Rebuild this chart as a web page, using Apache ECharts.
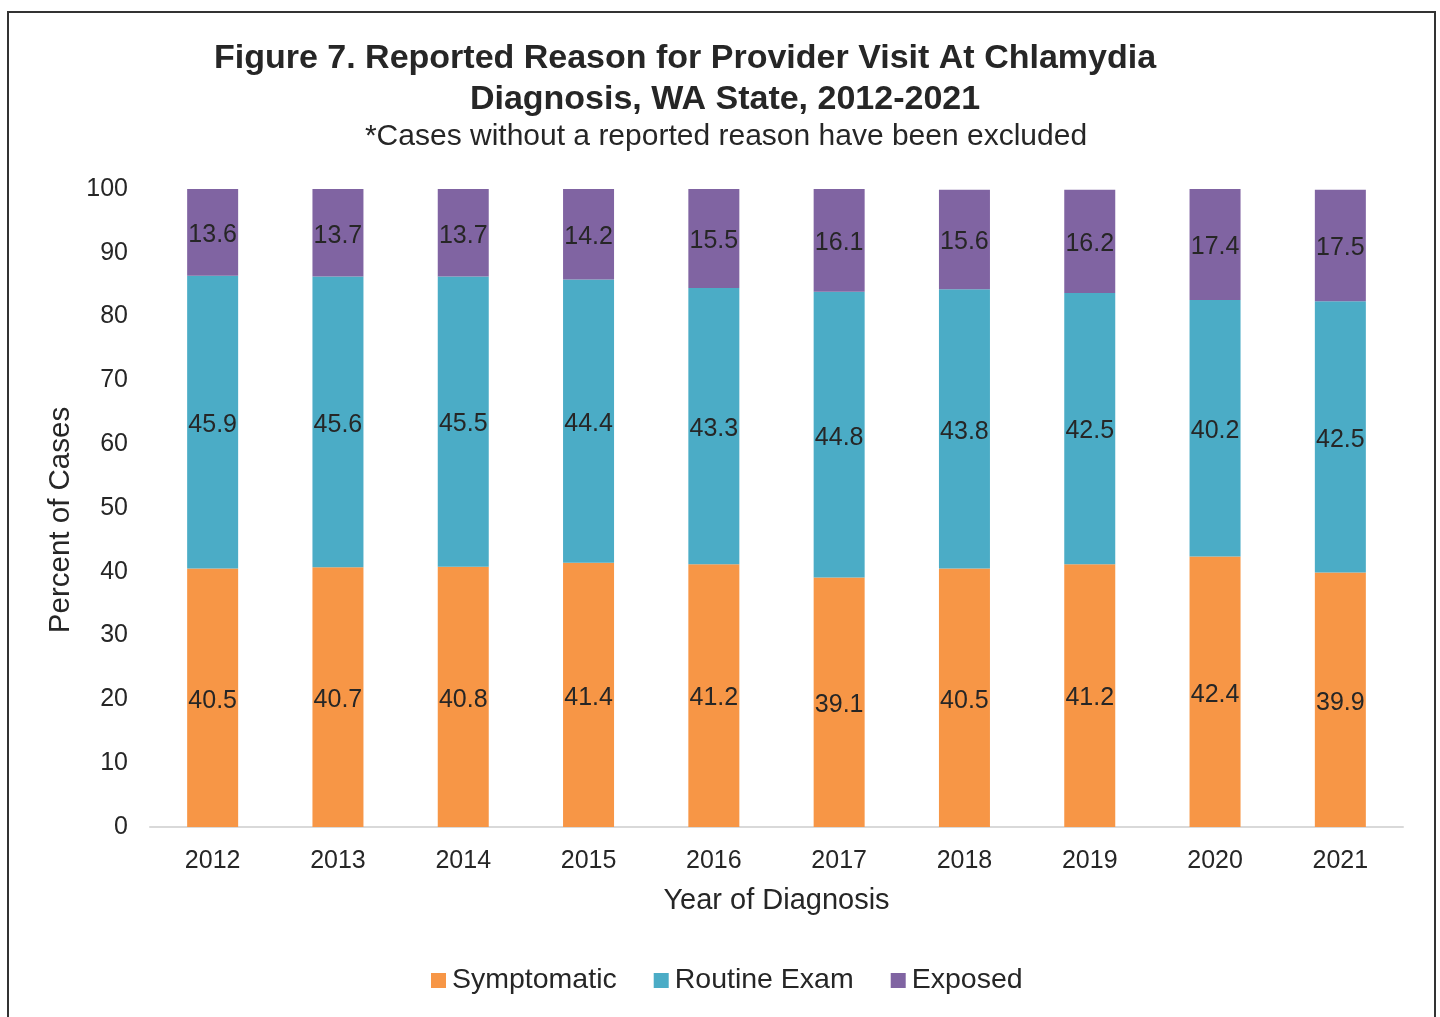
<html>
<head>
<meta charset="utf-8">
<script src="https://cdn.jsdelivr.net/npm/echarts@6/dist/echarts.min.js"></script>
<style>
  html, body, #main {
    width: 100%;
    height: 100%;
    margin: 0;
    background: #fff;
  }
</style>
</head>
<body>
<div id="main"></div>
<script>
// years on the x axis
var years = ['2012', '2013', '2014', '2015', '2016', '2017', '2018', '2019', '2020', '2021'];

// percent of cases per reason
var symptomatic = [40.5, 40.7, 40.8, 41.4, 41.2, 39.1, 40.5, 41.2, 42.4, 39.9];
var routineExam = [45.9, 45.6, 45.5, 44.4, 43.3, 44.8, 43.8, 42.5, 40.2, 42.5];
var exposed = [13.6, 13.7, 13.7, 14.2, 15.5, 16.1, 15.6, 16.2, 17.4, 17.5];

var font = 'Liberation Sans, Arial, sans-serif';
var textColor = '#262626';

var chart = echarts.init(document.getElementById('main'));

function barSeries(name, data, color) {
    return {
        name: name,
        type: 'bar',
        stack: 'total',
        data: data,
        barWidth: 51,
        itemStyle: { color: color },
        label: {
            show: true,
            position: 'inside',
            offset: [0, 3],
            color: textColor,
            fontFamily: font,
            fontSize: 25
        }
    };
}

chart.setOption({
    animation: false,
    textStyle: { fontFamily: font },
    title: [{
        text: 'Figure 7. Reported Reason for Provider Visit At Chlamydia',
        left: 680,
        top: 37,
        textAlign: 'center',
        textStyle: { fontSize: 34, fontWeight: 'bold', color: textColor, fontFamily: font }
    }, {
        text: 'Diagnosis, WA State, 2012-2021',
        left: 720,
        top: 78,
        textAlign: 'center',
        textStyle: { fontSize: 34, fontWeight: 'bold', color: textColor, fontFamily: font }
    }, {
        text: '*Cases without a reported reason have been excluded',
        left: 721,
        top: 117,
        textAlign: 'center',
        textStyle: { fontSize: 30, fontWeight: 'normal', color: textColor, fontFamily: font }
    }],
    graphic: [{
        type: 'rect',
        shape: { x: 8, y: 12, width: 1427, height: 1030 },
        style: { fill: 'none', stroke: '#333', lineWidth: 2 },
        silent: true
    }],
    legend: {
        bottom: 17,
        left: 426,
        itemWidth: 15,
        itemHeight: 15,
        itemGap: 37,
        icon: 'rect',
        textStyle: { fontSize: 28.5, color: textColor, fontFamily: font, padding: [0, 0, 0, 1] },
        data: ['Symptomatic', 'Routine Exam', 'Exposed']
    },
    grid: {
        left: 150,
        right: 37,
        top: 189,
        bottom: 190
    },
    xAxis: {
        type: 'category',
        data: years,
        name: 'Year of Diagnosis',
        nameLocation: 'middle',
        nameGap: 59,
        nameTextStyle: { fontSize: 29, color: textColor, fontFamily: font },
        axisLine: { lineStyle: { color: '#d9d9d9', width: 2 } },
        axisTick: { show: false },
        axisLabel: { fontSize: 25, color: textColor, margin: 22, fontFamily: font }
    },
    yAxis: {
        type: 'value',
        min: 0,
        max: 100,
        interval: 10,
        name: 'Percent of Cases',
        nameLocation: 'middle',
        nameGap: 74,
        nameTextStyle: { fontSize: 29.5, color: textColor, fontFamily: font, padding: [0, 24, 0, 0] },
        axisLine: { show: false },
        axisTick: { show: false },
        splitLine: { show: false },
        axisLabel: { fontSize: 25, color: textColor, margin: 22, fontFamily: font }
    },
    series: [
        barSeries('Symptomatic', symptomatic, '#F79646'),
        barSeries('Routine Exam', routineExam, '#4BACC6'),
        barSeries('Exposed', exposed, '#8064A2')
    ]
});

window.onresize = chart.resize;
</script>
</body>
</html>
